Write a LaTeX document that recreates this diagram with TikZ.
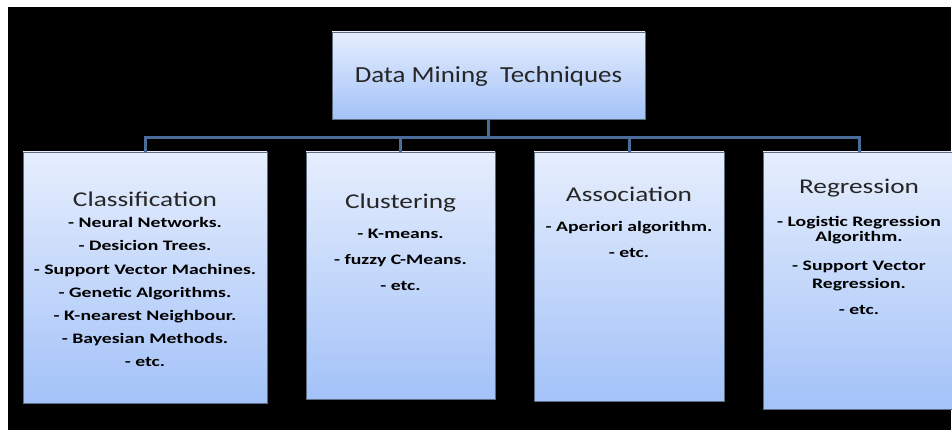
\documentclass[tikz,border=0pt]{standalone}
\usepackage{fontspec}
\setmainfont{Carlito}
\newfontfamily\rootfont[FakeStretch=1.17]{Carlito}
\newfontfamily\titlefont[FakeStretch=1.3]{Carlito}
\newfontfamily\itemfont[FakeStretch=1.36]{Carlito}
\begin{document}
\begin{tikzpicture}[x=1pt,y=-1pt,
  box/.style={draw=boxline, line width=0.8pt, top color=boxtop, bottom color=boxbot, rectangle, inner sep=0pt},
  conn/.style={draw=connc, line width=3pt},
  ttl/.style={anchor=base, inner sep=0pt, text=titlec, font=\titlefont\fontsize{21}{25}\selectfont},
  itm/.style={anchor=base, inner sep=0pt, text=black, font=\itemfont\bfseries\fontsize{14.5}{17}\selectfont}]
\definecolor{boxtop}{HTML}{E6EEFD}
\definecolor{boxbot}{HTML}{A3C2F8}
\definecolor{boxline}{HTML}{5E6C82}
\definecolor{connc}{HTML}{4A6C9B}
\definecolor{titlec}{HTML}{262626}
\useasboundingbox (0,0) rectangle (952,430);
\clip (0,0) rectangle (952,430);
\fill[white] (0,0) rectangle (952,430);
\fill[black] (8,7) rectangle (951,430);
% boxes
\node[box, minimum width=313pt, minimum height=87pt] (root) at (488.5,75.5) {};
\node[box, minimum width=244pt, minimum height=251pt] (cls) at (145,277.5) {};
\node[box, minimum width=189pt, minimum height=247pt] (clu) at (400.5,275.5) {};
\node[box, minimum width=190pt, minimum height=249pt] (asc) at (629,276.5) {};
\node[box, minimum width=192pt, minimum height=257pt] (reg) at (859,280.5) {};
% connectors
\coordinate (bus) at (root.south |- 0,137.5);
\draw[conn] (root.south) -- (bus);
\draw[conn] (bus) -| (cls.north);
\draw[conn] (bus) -| (clu.north);
\draw[conn] (bus) -| (asc.north);
\draw[conn] (bus) -| (reg.north);
% texts
\node[anchor=base, inner sep=0pt, text=titlec, font=\rootfont\fontsize{23}{27}\selectfont] (roott) at (488.5,83) {Data Mining\ \ Techniques};
\node[ttl] (clst) at (145,206.5) {Classification};
\foreach \t [count=\i] in {- Neural Networks., - Desicion Trees., - Support Vector Machines., - Genetic Algorithms., - K-nearest Neighbour., - Bayesian Methods., - etc.}
  \node[itm] (cls\i) at (145,{228+23*(\i-1)}) {\t};
\node[ttl] (clut) at (400.5,209) {Clustering};
\node[itm] (clu1) at (400.5,239) {- K-means.};
\node[itm] (clu2) at (400.5,264.5) {- fuzzy C-Means.};
\node[itm] (clu3) at (400.5,290.5) {- etc.};
\node[ttl] (asct) at (629,202) {Association};
\node[itm] (asc1) at (629,232) {- Aperiori algorithm.};
\node[itm] (asc2) at (629,258) {- etc.};
\node[ttl] (regt) at (859,194) {Regression};
\node[itm] (reg1) at (859,226) {- Logistic Regression};
\node[itm] (reg2) at (859,242) {Algorithm.};
\node[itm] (reg3) at (859,270) {- Support Vector};
\node[itm] (reg4) at (859,288) {Regression.};
\node[itm] (reg5) at (859,314) {- etc.};
\end{tikzpicture}
\end{document}
